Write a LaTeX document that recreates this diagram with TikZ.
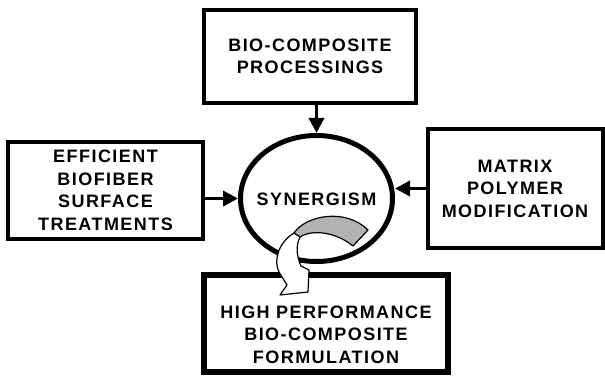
\documentclass[tikz,border=0pt]{standalone}
\usepackage{fontspec}
\setmainfont[LetterSpace=8]{Liberation Sans}
\usepackage{tikz}
\usetikzlibrary{shapes,arrows,positioning,calc,arrows.meta}

\begin{document}
\begin{tikzpicture}[x=1pt, y=-1pt,
    flow box/.style={draw, rectangle, line width=4pt, inner sep=0pt, align=center, font=\bfseries\fontsize{18}{22.5}\selectfont},
    flow text/.style={align=center, inner sep=0pt, font=\bfseries\fontsize{18}{22.5}\selectfont},
    core oval/.style={draw, ellipse, line width=5pt, inner sep=0pt, minimum width=152pt, minimum height=126pt},
    feed/.style={line width=3.5pt, -{Triangle[length=15pt,width=15pt]}}]
    \useasboundingbox (0,0) rectangle (605,379);

    \node[flow box, minimum width=212pt, minimum height=93pt] (proc) at (310,56.5) {BIO-COMPOSITE\\PROCESSINGS};
    \node[flow box, minimum width=195pt, minimum height=97pt] (treat) at (105.5,190.5) {EFFICIENT\\BIOFIBER\\SURFACE\\TREATMENTS};
    \node[flow box, minimum width=175pt, minimum height=119pt] (matrix) at (515,188.5) {MATRIX\\POLYMER\\MODIFICATION};
    \node[flow box, line width=6pt, minimum width=244pt, minimum height=97pt] (form) at (326,323.5) {};
    \node[flow text] (formtext) at ([yshift=-11pt]form.center) {HIGH PERFORMANCE\\BIO-COMPOSITE\\FORMULATION};
    \node[core oval] (syn) at (316.5,198.5) {};
    \node[flow text] (syntext) at ([yshift=-1pt]syn.center) {SYNERGISM};

    \draw[feed] (syn.north |- proc.south) -- (syn.north);
    \draw[feed] (syn.west -| treat.east) -- (syn.west);
    \draw[feed] (matrix.west) -- (matrix.west -| syn.east);

    % twisted ribbon arrow out of the oval
    \filldraw[fill=black!30, line width=1.2pt, line join=round]
        (294,233) .. controls (306,215) and (346,208) .. (368,230)
        -- (353,246) .. controls (336,232) and (312,229) .. (300,237) -- cycle;
    \filldraw[fill=white, line width=1.2pt, line join=round]
        (294,233) .. controls (279,242) and (273,260) .. (279,272)
        -- (287,285) -- (280,295) -- (308,292) -- (309,270) -- (301,266)
        .. controls (296,255) and (296,245) .. (300,237) -- cycle;
\end{tikzpicture}
\end{document}
